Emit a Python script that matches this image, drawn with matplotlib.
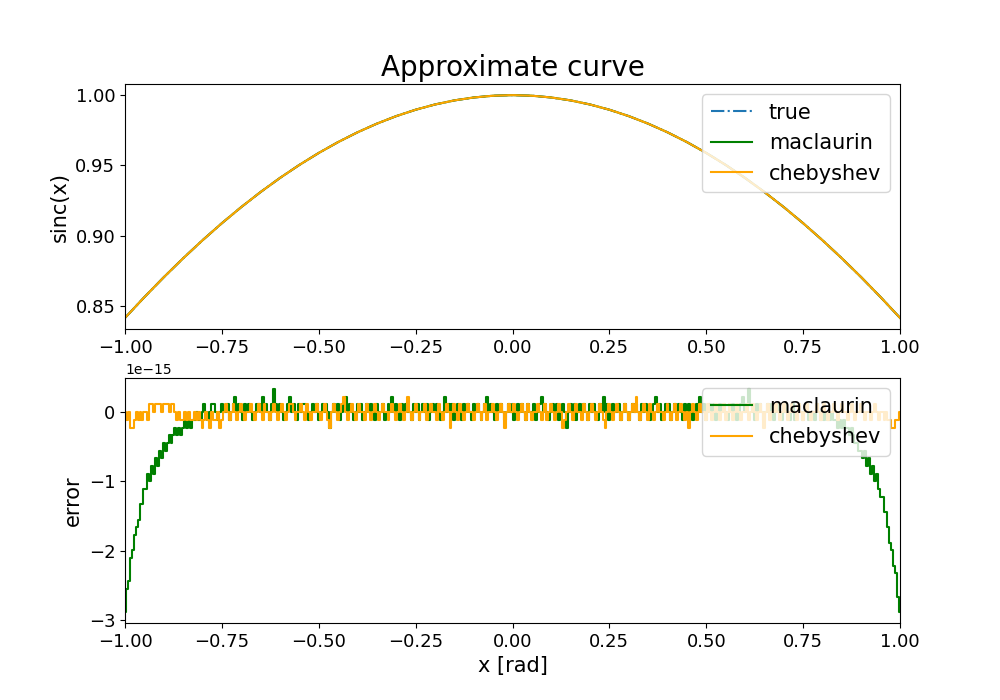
import numpy as np
import matplotlib
matplotlib.use("Agg")
import matplotlib.pyplot as plt

# ---- top panel: sinc(x) read at x = -1 ... 1 step 0.05 ----
x_curve = [-1.00, -0.95, -0.90, -0.85, -0.80, -0.75, -0.70, -0.65, -0.60, -0.55,
           -0.50, -0.45, -0.40, -0.35, -0.30, -0.25, -0.20, -0.15, -0.10, -0.05,
           0.00, 0.05, 0.10, 0.15, 0.20, 0.25, 0.30, 0.35, 0.40, 0.45,
           0.50, 0.55, 0.60, 0.65, 0.70, 0.75, 0.80, 0.85, 0.90, 0.95, 1.00]
true_vals = [0.841471, 0.856227, 0.870363, 0.883859, 0.896695, 0.908852, 0.920311,
             0.931056, 0.941071, 0.950339, 0.958851, 0.966592, 0.973546, 0.979708,
             0.985067, 0.989616, 0.993347, 0.996254, 0.998334, 0.999583, 1.000000,
             0.999583, 0.998334, 0.996254, 0.993347, 0.989616, 0.985067, 0.979708,
             0.973546, 0.966592, 0.958851, 0.950339, 0.941071, 0.931056, 0.920311,
             0.908852, 0.896695, 0.883859, 0.870363, 0.856227, 0.841471]
maclaurin_vals = list(true_vals)
chebyshev_vals = list(true_vals)

# ---- bottom panel: errors in units of 1.11e-16, x = -1 ... 1 step 0.005 ----
ERR_UNIT = 1.1102e-16
maclaurin_err = [
    -26, -23, -22, -19, -18, -16, -15, -14, -12, -12, -10, -10, -8, -9, -7, -8, -6, -7, -5, -6,
    -4, -5, -4, -3, -4, -3, -2, -3, -2, -3, -2, -1, -2, -1, -2, -1, -1, 0, -1, -1,
    0, 1, 0, -1, 0, 1, 1, 0, -1, 0, 1, 0, 0, 1, -1, 0, 1, 2, 0, 1,
    0, -1, 1, 0, 1, 0, -1, 0, 1, 1, 0, 2, 0, 1, 0, -1, 1, 3, 1, 0,
    1, 0, -1, 0, 1, 2, 0, 1, 0, -1, 1, 0, 1, 1, 0, -1, 0, 1, 0, 1,
    -1, 0, 1, 0, 1, 0, -2, 0, 1, 0, 1, -1, 0, 1, 2, 0, 1, 0, -1, 0,
    1, 0, 1, -1, 0, 1, 0, 1, 0, -1, 1, 0, 0, 1, -1, 0, 1, 0, 2, 0,
    1, 0, -1, 1, 0, 1, 0, 0, -1, 1, 0, 1, -1, 0, 1, 0, 1, -1, 0, 1,
    0, 1, 0, -1, 0, 2, 0, 1, 0, 1, -1, 0, 1, 0, -1, 1, 0, 1, 0, -1,
    1, 0, 1, 0, -1, 0, 1, 2, 0, 1, 0, -1, 1, 0, 1, 0, -1, 0, 1, 0,
    1, -1, 0, 1, 0, 1, 0, -1, 1, 0, 0, 1, -1, 0, 1, 2, 0, 1, 0, -1,
    0, 1, 0, 1, -1, 0, 1, 0, -2, 0, 1, 0, 1, -1, 0, 1, 0, 1, 0, -1,
    1, 0, 1, 0, -1, 1, 0, 2, 0, 1, -1, 0, 1, 0, 0, 1, -1, 0, 1, 0,
    -1, 0, 1, 0, 1, 0, -1, 1, 0, 1, 0, -1, 0, 1, 2, 0, 1, -1, 0, 1,
    0, 1, -1, 0, 1, 0, 1, 0, -1, 1, 0, 1, 0, -1, 0, 1, 0, 2, 0, 1,
    -1, 0, 1, 0, 1, -1, 0, 1, 0, 1, 0, -1, 1, 0, 1, 0, -1, 0, 1, 2,
    0, 1, 3, 1, 0, -1, 1, 0, 1, 0, -1, 0, 1, 0, 1, -1, 0, 1, 0, -1,
    0, 1, 0, -1, 0, 1, -1, 0, 1, 0, -1, 0, 1, -1, 0, 0, -1, 1, 0, -1,
    0, -1, 0, -1, -1, 0, -1, -1, -2, -1, -2, -1, -2, -2, -3, -2, -3, -4, -4, -5,
    -5, -6, -5, -7, -6, -8, -7, -9, -8, -10, -11, -11, -13, -13, -15, -17, -18, -20, -21, -24,
    -26,
]
chebyshev_err = [
    0, -1, 0, -2, -2, -1, 0, -1, 0, -1, 0, 0, -1, 1, 1, 0, 1, 1, 1, 0,
    1, 1, 1, 0, 1, 1, 0, -1, 0, -1, -1, 0, -1, 0, -1, -1, 0, -1, 0, -1,
    -2, -1, 0, -1, -2, 0, -1, -1, 0, -2, -1, 0, 1, 0, -1, 0, 1, 0, -1, 0,
    1, 0, -1, 0, 0, 1, 0, -1, 0, 1, 0, -1, 1, 0, 0, -1, 0, 1, 0, -1,
    0, 1, 0, -1, 0, 1, 1, 0, -1, 0, 0, 1, 0, -1, 1, 0, -1, 0, 0, 1,
    0, -1, 0, 1, 0, -1, -2, 0, 1, 0, -1, 0, 1, 2, 0, -1, 0, 1, 0, -1,
    0, 1, 0, 0, -1, 1, 0, -1, 0, 1, 0, -1, 0, 1, 0, 0, -1, 0, 1, 0,
    -1, 0, 1, 0, -1, 0, 2, 0, -1, 0, 1, 0, -1, 0, 0, 1, -1, 0, 1, 0,
    0, -1, 1, 0, -1, 0, 1, 0, -2, 0, 1, 0, -1, 1, 0, -1, 0, 1, 0, 0,
    -1, 0, 1, 0, -1, 0, 1, -1, 0, 0, 1, 0, -1, 0, 1, 0, -2, 0, 1, 0,
    0, 1, 0, -1, 0, 1, 0, -1, 1, 0, -1, 0, 0, 1, 0, -1, 0, 1, -1, 0,
    1, 0, -1, 0, 1, 0, -2, -1, 0, 1, 0, -1, 0, 1, 0, 0, -1, 1, 0, -1,
    0, 1, 0, -1, 0, 1, 0, -1, -2, 0, 1, 0, -1, 0, 1, 0, -1, 0, 1, 0,
    -1, 0, 1, 0, 2, 0, -1, 0, 1, 0, -1, 1, 0, -1, 0, 1, 0, 0, -1, 0,
    1, 0, -1, 0, 1, -1, 0, 1, 0, -1, 0, -2, 0, 1, 0, -1, 0, 1, 0, 0,
    -1, 1, 0, -1, 0, 1, 0, -1, 0, 1, -1, 0, 1, 0, -1, 0, 1, 0, -1, 0,
    0, 1, -1, 0, 1, 0, -1, 0, 1, 0, -2, 0, 1, -1, 0, 0, 1, 0, -1, 0,
    1, 0, -1, 0, 1, 0, 0, -1, 1, 0, -1, 0, 1, 0, -1, 0, 0, 1, 0, -1,
    0, 1, 0, -1, 0, 0, 1, 0, -1, 0, 1, 0, 0, -1, 0, 1, 0, -1, 0, 0,
    1, 0, -1, 0, 0, -1, 0, 1, 0, -1, 0, 0, -1, 0, -1, -1, -2, -2, -1, -1,
    0,
]

x_mac = np.linspace(-1, 1, len(maclaurin_err))
x_cheb = np.linspace(-1, 1, len(chebyshev_err))

fig, (ax1, ax2) = plt.subplots(2, 1, figsize=(10, 7), dpi=100)

ax1.plot(x_curve, true_vals, '-.', color='C0', label='true')
ax1.plot(x_curve, maclaurin_vals, '-', color='green', label='maclaurin')
ax1.plot(x_curve, chebyshev_vals, '-', color='orange', label='chebyshev')
ax1.set_xlim(-1, 1)
ax1.set_title('Approximate curve', fontsize=20)
ax1.set_ylabel('sinc(x)', fontsize=15)
ax1.tick_params(labelsize=13)
ax1.legend(loc='upper right', fontsize=15)

ax2.plot(x_mac, np.array(maclaurin_err) * ERR_UNIT, '-', color='green',
         drawstyle='steps-mid', label='maclaurin')
ax2.plot(x_cheb, np.array(chebyshev_err) * ERR_UNIT, '-', color='orange',
         drawstyle='steps-mid', label='chebyshev')
ax2.set_xlim(-1, 1)
ax2.set_xlabel('x [rad]', fontsize=15)
ax2.set_ylabel('error', fontsize=15)
ax2.tick_params(labelsize=13)
ax2.legend(loc='upper right', fontsize=15)

fig.savefig('out.png')
